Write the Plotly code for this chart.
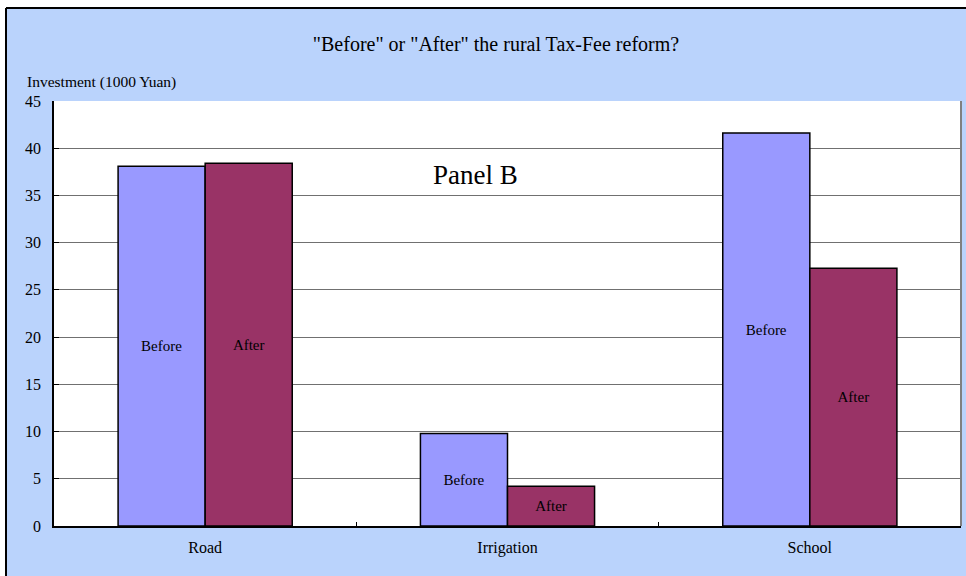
import plotly.graph_objects as go

categories = ["Road", "Irrigation", "School"]
before_values = [38.1, 9.8, 41.6]
after_values = [38.4, 4.2, 27.3]
before_labels = ["Before", "Before", "Before"]
after_labels = ["After", "After", "After"]
y_ticks = [0, 5, 10, 15, 20, 25, 30, 35, 40, 45]

SERIF = "Liberation Serif, serif"
BG = "#BAD3FC"

fig = go.Figure()
fig.add_trace(go.Bar(
    x=categories, y=before_values, name="Before",
    marker=dict(color="#9999FF", line=dict(color="#000000", width=1.5)),
    text=before_labels, textposition="inside", insidetextanchor="middle",
    textfont=dict(family=SERIF, size=15, color="#000000"),
    constraintext="none", hoverinfo="x+y",
))
fig.add_trace(go.Bar(
    x=categories, y=after_values, name="After",
    marker=dict(color="#993366", line=dict(color="#000000", width=1.5)),
    text=after_labels, textposition="inside", insidetextanchor="middle",
    textfont=dict(family=SERIF, size=15, color="#000000"),
    constraintext="none", hoverinfo="x+y",
))

L, R, T, B = 54, 5, 101, 50
W, H = 966, 576
pw, ph = W - L - R, H - T - B

def px2x(px):
    return (px - L) / pw

def py2y(py):
    return (H - B - py) / ph

fig.update_layout(
    width=W, height=H,
    margin=dict(l=L, r=R, t=T, b=B),
    paper_bgcolor=BG, plot_bgcolor="#FFFFFF",
    barmode="group", bargap=0.424, bargroupgap=0,
    showlegend=False,
    font=dict(family=SERIF, color="#000000"),
    title=dict(text="\"Before\" or \"After\" the rural Tax-Fee reform?",
               x=496 / W, xref="container", xanchor="center",
               y=1 - 44 / H, yref="container", yanchor="middle",
               font=dict(family=SERIF, size=20, color="#000000")),
    xaxis=dict(showline=True, linecolor="#000000", linewidth=1.5,
               ticks="inside", tickson="boundaries", ticklen=4,
               tickcolor="#000000", showgrid=False, ticklabelstandoff=6,
               tickfont=dict(family=SERIF, size=16, color="#000000")),
    yaxis=dict(range=[0, 45], tickvals=y_ticks, showline=True,
               linecolor="#000000", linewidth=1.5,
               ticks="inside", ticklen=5, tickcolor="#000000",
               showgrid=True, gridcolor="#707070", gridwidth=1,
               zeroline=False, ticklabelstandoff=8,
               tickfont=dict(family=SERIF, size=16, color="#000000")),
    annotations=[
        dict(text="Investment (1000 Yuan)", xref="paper", yref="paper",
             x=px2x(25), y=py2y(82), xanchor="left", yanchor="middle",
             showarrow=False, font=dict(family=SERIF, size=15.5, color="#000000")),
        dict(text="Panel B", xref="paper", yref="paper",
             x=px2x(475), y=py2y(175), xanchor="center", yanchor="middle",
             showarrow=False, font=dict(family=SERIF, size=27, color="#000000")),
    ],
    shapes=[
        # white strips outside the outer frame
        dict(type="rect", xref="paper", yref="paper", x0=px2x(-10), x1=px2x(6),
             y0=py2y(600), y1=py2y(-10), fillcolor="#FFFFFF", line=dict(width=0), layer="above"),
        dict(type="rect", xref="paper", yref="paper", x0=px2x(-10), x1=px2x(980),
             y0=py2y(8), y1=py2y(-10), fillcolor="#FFFFFF", line=dict(width=0), layer="above"),
        # outer frame lines
        dict(type="line", xref="paper", yref="paper", x0=px2x(6), x1=px2x(6),
             y0=py2y(600), y1=py2y(8), line=dict(color="#000000", width=2), layer="above"),
        dict(type="line", xref="paper", yref="paper", x0=px2x(6), x1=px2x(980),
             y0=py2y(8), y1=py2y(8), line=dict(color="#000000", width=2), layer="above"),
        # right plot-area border
        dict(type="line", xref="paper", yref="paper", x0=1, x1=1, y0=0, y1=1,
             line=dict(color="#808080", width=2), layer="above"),
    ],
)

fig.write_html("out.html", config={"displayModeBar": False},
               post_script="document.body.style.margin='0px';")
